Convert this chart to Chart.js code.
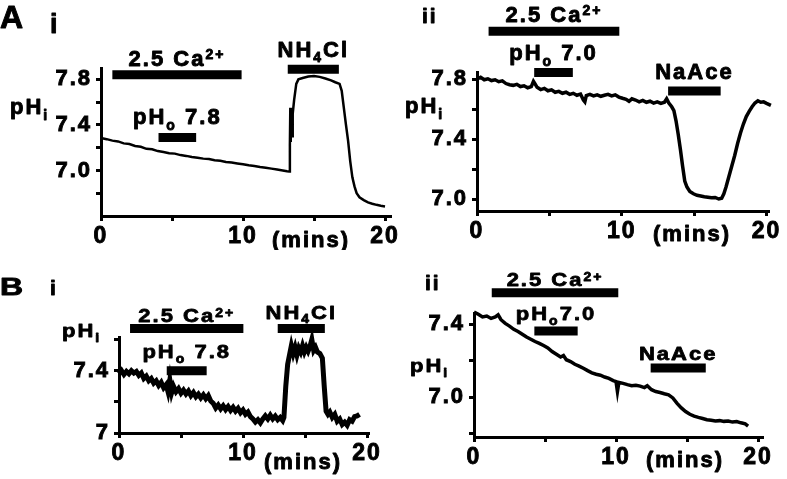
<!doctype html>
<html lang="en">
<head>
<meta charset="utf-8">
<title>pHi traces</title>
<style>
  * { margin: 0; padding: 0; }
  body { background: #fff; }
  #fig { position: relative; width: 787px; height: 479px; }
  #fig canvas { position: absolute; }
</style>
</head>
<body>
<div id="fig">
  <canvas id="panelAi" width="400" height="250" style="left:0;top:0"></canvas>
  <canvas id="panelAii" width="387" height="250" style="left:400px;top:0"></canvas>
  <canvas id="panelBi" width="400" height="229" style="left:0;top:250px"></canvas>
  <canvas id="panelBii" width="387" height="229" style="left:400px;top:250px"></canvas>
</div>
<script src="https://cdn.jsdelivr.net/npm/chart.js"></script>
<script>
// x axis (minutes), shared by all panels
const xTicks = [0, 5, 10, 15, 20];
const xTickLabels = ['0', '', '10', '', '20'];

// ---- A i ----
const aiTime = [0, 0.4, 0.8, 1.2, 1.6, 2, 2.4, 2.8, 3.2, 3.6, 4, 4.4, 4.8, 5.2, 5.6, 6, 6.4, 6.8, 7.2, 7.6,
  8, 8.4, 8.8, 9.2, 9.6, 10, 10.4, 10.8, 11.2, 11.6, 12, 12.4, 12.8, 13.1, 13.25, 13.3, 13.33, 13.36, 13.4,
  13.45, 13.5, 13.6, 13.75, 13.9, 14.2, 14.6, 15, 15.4, 15.8, 16.2, 16.5, 16.8, 16.95, 17.1, 17.25, 17.4,
  17.55, 17.7, 17.85, 18, 18.2, 18.5, 18.8, 19.1, 19.4, 19.7, 20];
const aiPH = [7.285, 7.275, 7.262, 7.255, 7.238, 7.232, 7.215, 7.208, 7.19, 7.186, 7.17, 7.163, 7.152, 7.148,
  7.135, 7.128, 7.118, 7.112, 7.104, 7.1, 7.09, 7.086, 7.075, 7.07, 7.062, 7.055, 7.046, 7.04, 7.03, 7.024,
  7.016, 7.008, 7.0, 6.993, 6.99, 7.22, 7.55, 7.25, 7.52, 7.3, 7.5, 7.62, 7.76, 7.8, 7.812, 7.825, 7.83,
  7.822, 7.808, 7.792, 7.775, 7.76, 7.7, 7.55, 7.4, 7.26, 7.08, 6.94, 6.86, 6.8, 6.765, 6.74, 6.72, 6.708,
  6.698, 6.69, 6.684];
const aiYTicks = [6.8, 7.0, 7.2, 7.4, 7.6, 7.8];
const aiYTickLabels = ['', '7.0', '', '7.4', '', '7.8'];
const aiBarLabels = ['2.5 Ca^{2+}', 'NH_{4}Cl', 'pH_{o} 7.8'];
const aiBarStart = [0.8, 13.15, 4.05];
const aiBarEnd = [9.9, 16.75, 6.7];
const aiBarLevel = [7.84, 7.89, 7.29];

// ---- A ii ----
const aiiTime = [0, 0.25, 0.5, 0.75, 1, 1.25, 1.5, 1.75, 2, 2.25, 2.5, 2.75, 3, 3.25, 3.5, 3.75, 3.9, 4, 4.15,
  4.4, 4.65, 4.9, 5.15, 5.4, 5.65, 5.9, 6.15, 6.4, 6.65, 6.9, 7.15, 7.35, 7.45, 7.55, 7.8, 8.05, 8.3, 8.55,
  8.8, 9.05, 9.3, 9.55, 9.8, 10.05, 10.3, 10.5, 10.7, 10.95, 11.2, 11.45, 11.7, 11.95, 12.2, 12.45, 12.7,
  12.95, 13.1, 13.25, 13.45, 13.6, 13.75, 13.9, 14.05, 14.2, 14.35, 14.5, 14.7, 14.95, 15.2, 15.45, 15.7,
  15.95, 16.2, 16.45, 16.7, 16.9, 17.05, 17.2, 17.4, 17.6, 17.8, 18, 18.2, 18.4, 18.6, 18.8, 19, 19.2, 19.4,
  19.6, 19.8, 20, 20.3];
const aiiPH = [7.8, 7.812, 7.795, 7.802, 7.79, 7.795, 7.782, 7.788, 7.77, 7.762, 7.758, 7.765, 7.75, 7.755,
  7.742, 7.75, 7.785, 7.77, 7.745, 7.73, 7.738, 7.722, 7.728, 7.712, 7.718, 7.705, 7.712, 7.698, 7.705, 7.692,
  7.7, 7.66, 7.648, 7.69, 7.698, 7.688, 7.695, 7.685, 7.692, 7.698, 7.688, 7.695, 7.68, 7.672, 7.665, 7.652,
  7.668, 7.66, 7.648, 7.658, 7.645, 7.652, 7.64, 7.648, 7.638, 7.645, 7.668, 7.64, 7.615, 7.59, 7.52, 7.43,
  7.33, 7.22, 7.12, 7.08, 7.05, 7.035, 7.025, 7.02, 7.015, 7.012, 7.008, 7.01, 7.0, 7.005, 7.035, 7.08, 7.15,
  7.22, 7.29, 7.37, 7.44, 7.5, 7.55, 7.585, 7.615, 7.64, 7.655, 7.645, 7.648, 7.638, 7.625];
const aiiYTicks = [7.0, 7.2, 7.4, 7.6, 7.8];
const aiiYTickLabels = ['7.0', '', '7.4', '', '7.8'];
const aiiBarLabels = ['2.5 Ca^{2+}', 'pH_{o} 7.0', 'NaAce'];
const aiiBarStart = [0.8, 3.95, 13.2];
const aiiBarEnd = [9.83, 6.62, 16.83];
const aiiBarLevel = [8.118, 7.843, 7.72];

// ---- B i ----
const biTime = [0, 0.2, 0.4, 0.6, 0.8, 1, 1.2, 1.4, 1.6, 1.8, 2, 2.2, 2.4, 2.6, 2.8, 3, 3.2, 3.4, 3.6, 3.8,
  3.95, 4.1, 4.25, 4.4, 4.6, 4.8, 5, 5.2, 5.4, 5.6, 5.8, 6, 6.2, 6.4, 6.6, 6.8, 7, 7.2, 7.4, 7.6, 7.8, 8, 8.2,
  8.4, 8.6, 8.8, 9, 9.2, 9.4, 9.6, 9.8, 10, 10.2, 10.4, 10.6, 10.8, 11, 11.2, 11.4, 11.6, 11.8, 12, 12.2,
  12.4, 12.6, 12.8, 13, 13.2, 13.3, 13.45, 13.6, 13.75, 13.9, 14.05, 14.2, 14.35, 14.5, 14.65, 14.8, 14.95,
  15.1, 15.25, 15.4, 15.55, 15.7, 15.85, 16, 16.2, 16.4, 16.55, 16.7, 16.85, 17, 17.2, 17.4, 17.6, 17.8, 18,
  18.2, 18.4, 18.6, 18.8, 19, 19.2, 19.4];
const biPH = [7.38, 7.4, 7.375, 7.395, 7.38, 7.4, 7.385, 7.395, 7.37, 7.385, 7.35, 7.365, 7.335, 7.35, 7.32,
  7.335, 7.305, 7.325, 7.29, 7.31, 7.265, 7.34, 7.26, 7.3, 7.265, 7.285, 7.255, 7.275, 7.25, 7.27, 7.24,
  7.26, 7.232, 7.25, 7.225, 7.245, 7.22, 7.24, 7.205, 7.19, 7.16, 7.18, 7.155, 7.175, 7.15, 7.17, 7.145,
  7.165, 7.14, 7.158, 7.13, 7.148, 7.12, 7.135, 7.105, 7.09, 7.07, 7.085, 7.065, 7.09, 7.11, 7.09, 7.115,
  7.09, 7.108, 7.085, 7.1, 7.08, 7.1, 7.3, 7.44, 7.5, 7.56, 7.51, 7.55, 7.5, 7.545, 7.52, 7.56, 7.52, 7.55,
  7.525, 7.555, 7.6, 7.53, 7.55, 7.52, 7.51, 7.48, 7.3, 7.14, 7.12, 7.135, 7.1, 7.12, 7.075, 7.09, 7.055,
  7.07, 7.05, 7.085, 7.075, 7.105, 7.11, 7.12];
const biYTicks = [7.0, 7.2, 7.4, 7.6];
const biYTickLabels = ['7', '', '7.4', ''];
const biBarLabels = ['2.5 Ca^{2+}', 'NH_{4}Cl', 'pH_{o} 7.8'];
const biBarStart = [0.89, 12.8, 3.85];
const biBarEnd = [10.03, 16.6, 7.07];
const biBarLevel = [7.67, 7.67, 7.4];

// ---- B ii ----
const biiTime = [0, 0.3, 0.6, 0.9, 1.2, 1.5, 1.7, 1.9, 2.2, 2.5, 2.8, 3.1, 3.4, 3.7, 4, 4.3, 4.6, 4.9, 5.2,
  5.5, 5.8, 6.1, 6.3, 6.5, 6.8, 7.1, 7.4, 7.7, 8, 8.3, 8.6, 8.9, 9.2, 9.5, 9.8, 10, 10.1, 10.2, 10.5, 10.8,
  11.1, 11.4, 11.7, 12, 12.2, 12.5, 12.8, 13.1, 13.4, 13.7, 14, 14.3, 14.6, 14.9, 15.2, 15.5, 15.8, 16.1,
  16.4, 16.7, 17, 17.3, 17.6, 17.9, 18.2, 18.5, 18.8, 19.1, 19.3];
const biiPH = [7.468, 7.455, 7.44, 7.445, 7.432, 7.44, 7.452, 7.425, 7.405, 7.39, 7.372, 7.36, 7.345, 7.33,
  7.318, 7.305, 7.295, 7.283, 7.27, 7.25, 7.235, 7.22, 7.228, 7.205, 7.195, 7.18, 7.17, 7.158, 7.145, 7.133,
  7.125, 7.12, 7.11, 7.102, 7.09, 7.085, 7.03, 7.08, 7.075, 7.068, 7.062, 7.065, 7.06, 7.052, 7.062, 7.04,
  7.03, 7.025, 7.018, 7.012, 6.995, 6.965, 6.94, 6.92, 6.905, 6.895, 6.888, 6.882, 6.875, 6.872, 6.868, 6.87,
  6.866, 6.868, 6.862, 6.865, 6.858, 6.852, 6.84];
const biiYTicks = [6.8, 7.0, 7.2, 7.4];
const biiYTickLabels = ['', '7.0', '', '7.4'];
const biiBarLabels = ['2.5 Ca^{2+}', 'pH_{o}7.0', 'NaAce'];
const biiBarStart = [1.25, 4.25, 12.44];
const biiBarEnd = [10.16, 7.3, 16.32];
const biiBarLevel = [7.574, 7.363, 7.16];

const FONT = '"Liberation Sans", Arial, Helvetica, sans-serif';
Chart.defaults.font.family = FONT;
Chart.defaults.font.weight = 'bold';
Chart.defaults.color = '#000';

// text with _{sub} and ^{sup} parts
function drawRich(ctx, str, x, y, size, align, sx, sy) {
  const parts = [];
  const re = /([_^])\{([^}]*)\}|([^_^]+)/g;
  let m;
  while ((m = re.exec(str))) {
    parts.push(m[1] ? {t: m[2], kind: m[1]} : {t: m[3], kind: ''});
  }
  const fontFor = k => 'bold ' + (k ? Math.round(size * 0.62) : size) + 'px ' + FONT;
  ctx.save();
  ctx.translate(x, y);
  ctx.scale(sx, sy);
  ctx.letterSpacing = '2px';
  ctx.textAlign = 'left';
  ctx.textBaseline = 'alphabetic';
  ctx.fillStyle = '#000';
  ctx.strokeStyle = '#000';
  ctx.lineWidth = 0.9;
  ctx.lineJoin = 'round';
  let w = 0;
  parts.forEach(p => { ctx.font = fontFor(p.kind); p.w = ctx.measureText(p.t).width; w += p.w; });
  let cx = align === 'center' ? -w / 2 : 0;
  parts.forEach(p => {
    ctx.font = fontFor(p.kind);
    const dy = p.kind === '^' ? -size * 0.3 : (p.kind === '_' ? size * 0.26 : 0);
    ctx.fillText(p.t, cx, dy);
    ctx.strokeText(p.t, cx, dy);
    cx += p.w;
  });
  ctx.restore();
}

function makePanel(p) {
  const datasets = [{
    data: p.time.map((t, i) => ({x: t, y: p.ph[i]})),
    borderColor: '#000', borderWidth: p.lineWidth, pointRadius: 0, tension: 0, clip: false
  }];
  p.barStart.forEach((s, i) => {
    datasets.push({
      data: [{x: s, y: p.barLevel[i]}, {x: p.barEnd[i], y: p.barLevel[i]}],
      borderColor: '#000', borderWidth: 9, borderCapStyle: 'butt', pointRadius: 0, clip: false
    });
  });

  const labels = {
    id: 'panelText',
    beforeDraw(chart) { chart.ctx.letterSpacing = '2px'; },
    afterDatasetsDraw(chart) {
      const ctx = chart.ctx, xs = chart.scales.x, ys = chart.scales.y;
      p.barLabels.forEach((lab, i) => {
        const cx = xs.getPixelForValue((p.barStart[i] + p.barEnd[i]) / 2);
        const cy = ys.getPixelForValue(p.barLevel[i]) - p.labelLift[i];
        drawRich(ctx, lab, cx, cy, 22, 'center', 1, p.textScaleY);
      });
      p.notes.forEach(n => drawRich(ctx, n.text, n.x, n.y, n.size, n.align || 'left', n.sx || 1, n.sy || 1));
    }
  };

  new Chart(document.getElementById(p.id), {
    type: 'line',
    data: {datasets},
    options: {
      responsive: false,
      animation: false,
      devicePixelRatio: 1,
      events: [],
      layout: {padding: {left: 0, top: p.padTop, right: p.padRight, bottom: 0}},
      plugins: {legend: {display: false}, tooltip: {enabled: false}},
      scales: {
        x: {
          type: 'linear', min: 0, max: p.xMax,
          afterBuildTicks(s) { s.ticks = xTicks.map(v => ({value: v})); },
          afterFit(s) { s.height = p.xHeight; s.paddingLeft = 0; s.paddingRight = 0; },
          ticks: {
            callback: (v, i) => xTickLabels[i], autoSkip: false, maxRotation: 0,
            font: {size: 23, weight: 'bold'}, color: '#000', padding: 2,
            textStrokeColor: '#000', textStrokeWidth: 0.9
          },
          grid: {drawOnChartArea: false, tickLength: 5, lineWidth: 3, color: '#000'},
          border: {display: true, color: '#000', width: 3}
        },
        y: {
          type: 'linear', min: p.yMin, max: p.yMax,
          afterBuildTicks(s) { s.ticks = p.yTicks.map(v => ({value: v})); },
          afterFit(s) { s.width = p.yWidth; s.paddingTop = 0; s.paddingBottom = 0; },
          ticks: {
            callback: (v, i) => p.yTickLabels[i], autoSkip: false,
            font: {size: 22, weight: 'bold'}, color: '#000', padding: 4,
            textStrokeColor: '#000', textStrokeWidth: 0.9
          },
          grid: {drawOnChartArea: false, tickLength: 5, lineWidth: 3, color: '#000'},
          border: {display: true, color: '#000', width: 3}
        }
      }
    },
    plugins: [labels]
  });
}

makePanel({
  id: 'panelAi', time: aiTime, ph: aiPH,
  barLabels: aiBarLabels, barStart: aiBarStart, barEnd: aiBarEnd, barLevel: aiBarLevel,
  yTicks: aiYTicks, yTickLabels: aiYTickLabels,
  xMax: 20.35, yMin: 6.6, yMax: 7.9,
  yWidth: 101, xHeight: 34, padTop: 68, padRight: 10, lineWidth: 2.5,
  labelLift: [9.3, 12.5, 13], textScaleY: 1,
  notes: [
    {text: 'A', x: 0, y: 28, size: 32},
    {text: 'i', x: 50, y: 33, size: 27},
    {text: 'pH_{i}', x: 10, y: 114, size: 22},
    {text: '(mins)', x: 311, y: 247, size: 22, align: 'center'}
  ]
});

makePanel({
  id: 'panelAii', time: aiiTime, ph: aiiPH,
  barLabels: aiiBarLabels, barStart: aiiBarStart, barEnd: aiiBarEnd, barLevel: aiiBarLevel,
  yTicks: aiiYTicks, yTickLabels: aiiYTickLabels,
  xMax: 20.1, yMin: 6.92, yMax: 7.847,
  yWidth: 77, xHeight: 39, padTop: 72, padRight: 19, lineWidth: 3.5,
  labelLift: [9.3, 12.3, 12.4], textScaleY: 1,
  notes: [
    {text: 'ii', x: 22, y: 23, size: 21},
    {text: 'pH_{i}', x: 5, y: 113, size: 22},
    {text: '(mins)', x: 292, y: 241, size: 22, align: 'center'}
  ]
});

makePanel({
  id: 'panelBi', time: biTime, ph: biPH,
  barLabels: biBarLabels, barStart: biBarStart, barEnd: biBarEnd, barLevel: biBarLevel,
  yTicks: biYTicks, yTickLabels: biYTickLabels,
  xMax: 20.08, yMin: 7.0, yMax: 7.616,
  yWidth: 119, xHeight: 46, padTop: 87, padRight: 32, lineWidth: 5,
  labelLift: [6.3, 10, 12.7], textScaleY: 0.85,
  notes: [
    {text: 'B', x: 0, y: 45, size: 24, sx: 1.33},
    {text: 'i', x: 50, y: 45, size: 21},
    {text: 'pH_{i}', x: 62, y: 87, size: 22, sy: 0.85},
    {text: '(mins)', x: 303, y: 219, size: 22, align: 'center'}
  ]
});

makePanel({
  id: 'panelBii', time: biiTime, ph: biiPH,
  barLabels: biiBarLabels, barStart: biiBarStart, barEnd: biiBarEnd, barLevel: biiBarLevel,
  yTicks: biiYTicks, yTickLabels: biiYTickLabels,
  xMax: 20.28, yMin: 6.78, yMax: 7.462,
  yWidth: 74, xHeight: 42, padTop: 63, padRight: 25, lineWidth: 3.5,
  labelLift: [6.3, 10.7, 7.7], textScaleY: 0.85,
  notes: [
    {text: 'ii', x: 25, y: 40, size: 21},
    {text: 'pH_{i}', x: 10, y: 122, size: 22, sy: 0.85},
    {text: '(mins)', x: 285, y: 217, size: 22, align: 'center'}
  ]
});
</script>
</body>
</html>
